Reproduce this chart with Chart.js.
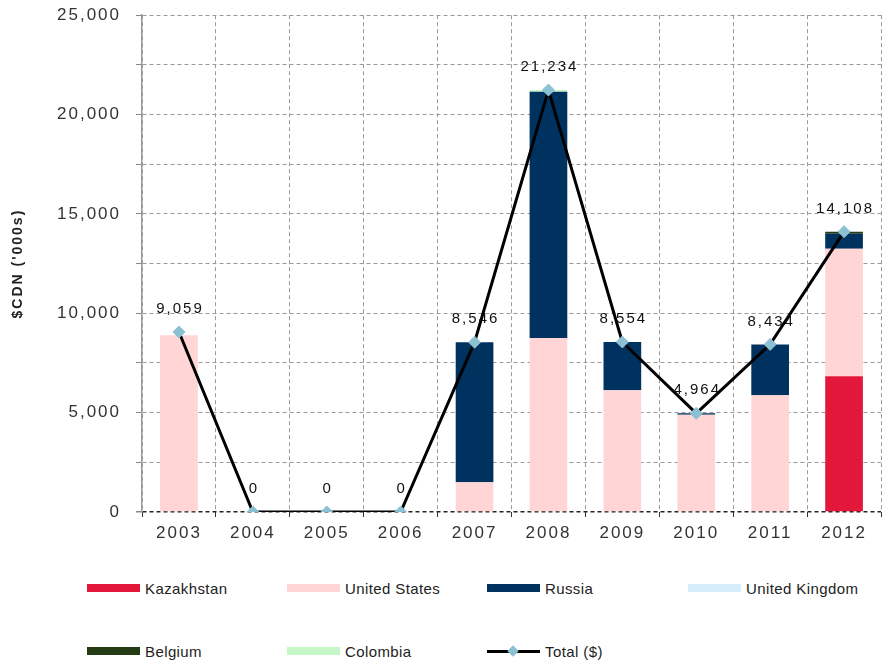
<!DOCTYPE html>
<html>
<head>
<meta charset="utf-8">
<script src="https://cdn.jsdelivr.net/npm/chart.js@4"></script>
<style>
  body { margin: 0; background: #fff; }
  #wrap { position: relative; width: 888px; height: 662px; overflow: hidden; font-family: "Liberation Sans", Arial, sans-serif; }
  #chartBox { position: absolute; left: 0; top: -10px; width: 888px; height: 555px; }
  .lg { position: absolute; display: flex; align-items: center; height: 20px; font-size: 15px; color: #222; white-space: nowrap; letter-spacing: 0.4px; }
  .lg .sw { width: 53px; height: 8px; margin-right: 5px; }
  .lg .ln { position: relative; width: 53px; height: 3px; background: #000; margin-right: 5px; }
  .lg .ln i { position: absolute; left: 22px; top: -3px; width: 8px; height: 8px; background: #8cc0d3; transform: rotate(45deg); }
</style>
</head>
<body>
<div id="wrap">
  <div id="chartBox"><canvas id="c"></canvas></div>
</div>
<script>
const years = ["2003", "2004", "2005", "2006", "2007", "2008", "2009", "2010", "2011", "2012"];
const kazakhstan = [0, 0, 0, 0, 0, 0, 0, 0, 0, 6830];
const unitedStates = [8900, 0, 0, 0, 1500, 8750, 6125, 4900, 5870, 6420];
const russia = [0, 0, 0, 0, 7046, 12400, 2429, 64, 2564, 750];
const unitedKingdom = [0, 0, 0, 0, 0, 0, 0, 0, 0, 0];
const belgium = [0, 0, 0, 0, 0, 0, 0, 0, 0, 108];
const colombia = [0, 0, 0, 0, 0, 84, 0, 0, 0, 0];
const total = [9059, 0, 0, 0, 8546, 21234, 8554, 4964, 8434, 14108];

const barSeries = [
  { label: "Kazakhstan", data: kazakhstan, color: "#e3173a" },
  { label: "United States", data: unitedStates, color: "#ffd5d6" },
  { label: "Russia", data: russia, color: "#00325f" },
  { label: "United Kingdom", data: unitedKingdom, color: "#d6edfb" },
  { label: "Belgium", data: belgium, color: "#253b14" },
  { label: "Colombia", data: colombia, color: "#c6f6c6" }
];

const datasets = barSeries.map(s => ({
  type: "bar",
  label: s.label,
  data: s.data,
  backgroundColor: s.color,
  borderWidth: 0,
  barPercentage: 0.51,
  categoryPercentage: 1,
  stack: "countries",
  order: 1
}));

datasets.push({
  type: "line",
  label: "Total ($)",
  data: total,
  borderColor: "#000",
  borderWidth: 3,
  tension: 0,
  pointStyle: "rectRot",
  pointRadius: 6,
  pointBackgroundColor: "#8cc0d3",
  pointBorderColor: "#8cc0d3",
  pointBorderWidth: 1,
  stack: "total",
  order: 0
});

// wider text spacing like the original
const spacing = {
  id: "spacing",
  beforeDraw(chart) { chart.ctx.letterSpacing = "2px"; }
};

// value labels above the total line
const totalLabels = {
  id: "totalLabels",
  afterDatasetsDraw(chart) {
    const idx = chart.data.datasets.length - 1;
    const meta = chart.getDatasetMeta(idx);
    const ctx = chart.ctx;
    ctx.save();
    ctx.letterSpacing = "2px";
    ctx.font = "15px 'Liberation Sans', Arial, sans-serif";
    ctx.fillStyle = "#111";
    ctx.textAlign = "center";
    ctx.textBaseline = "middle";
    meta.data.forEach((pt, i) => {
      ctx.fillText(total[i].toLocaleString("en-US"), pt.x + 1, pt.y - 23);
    });
    ctx.restore();
  }
};

const gridDash = [4, 3];

new Chart(document.getElementById("c"), {
  data: { labels: years, datasets: datasets },
  options: {
    responsive: true,
    maintainAspectRatio: false,
    animation: false,
    layout: { padding: { top: 4, right: 3, left: 0, bottom: 0 } },
    scales: {
      x: {
        stacked: true,
        grid: { color: "#9a9a9a", tickLength: 5, offset: true, tickColor: "#333" },
        border: { display: false, dash: gridDash },
        ticks: { color: "#333", font: { size: 17, family: "'Liberation Sans', Arial" }, padding: 6 },
        afterFit: s => { s.height = 33; }
      },
      y: {
        stacked: true,
        min: 0,
        max: 25000,
        grid: {
          color: c => (c.tick && c.tick.value === 0 ? "#222" : "#9a9a9a"),
          lineWidth: c => (c.tick && c.tick.value === 0 ? 1.5 : 1),
          tickLength: 6,
          tickColor: "#888"
        },
        border: { color: "#999", width: 1.5, dash: gridDash },
        ticks: {
          stepSize: 2500,
          color: "#333",
          padding: 15,
          font: { size: 17, family: "'Liberation Sans', Arial" },
          callback: v => (v % 5000 === 0 ? v.toLocaleString("en-US") : "")
        },
        title: {
          display: true,
          text: "$CDN ('000s)",
          color: "#222",
          font: { size: 14, weight: "bold", family: "'Liberation Sans', Arial" },
          padding: { top: 10, bottom: 0 }
        },
        afterFit: s => { s.width = 142; }
      }
    },
    plugins: {
      legend: { display: false },
      tooltip: { enabled: false }
    }
  },
  plugins: [spacing, totalLabels]
});

// legend laid out in a 4-column grid under the chart
const wrap = document.getElementById("wrap");
const colX = [87, 287, 487, 688];
const rowY = [588, 651];
const legendItems = barSeries.map(s => ({ label: s.label, color: s.color })).concat([{ label: "Total ($)", line: true }]);
legendItems.forEach((item, i) => {
  const el = document.createElement("div");
  el.className = "lg";
  el.style.left = colX[i % 4] + "px";
  el.style.top = (rowY[Math.floor(i / 4)] - 10) + "px";
  const sw = document.createElement("span");
  if (item.line) {
    sw.className = "ln";
    sw.appendChild(document.createElement("i"));
  } else {
    sw.className = "sw";
    sw.style.background = item.color;
  }
  el.appendChild(sw);
  el.appendChild(document.createTextNode(item.label));
  wrap.appendChild(el);
});
</script>
</body>
</html>
